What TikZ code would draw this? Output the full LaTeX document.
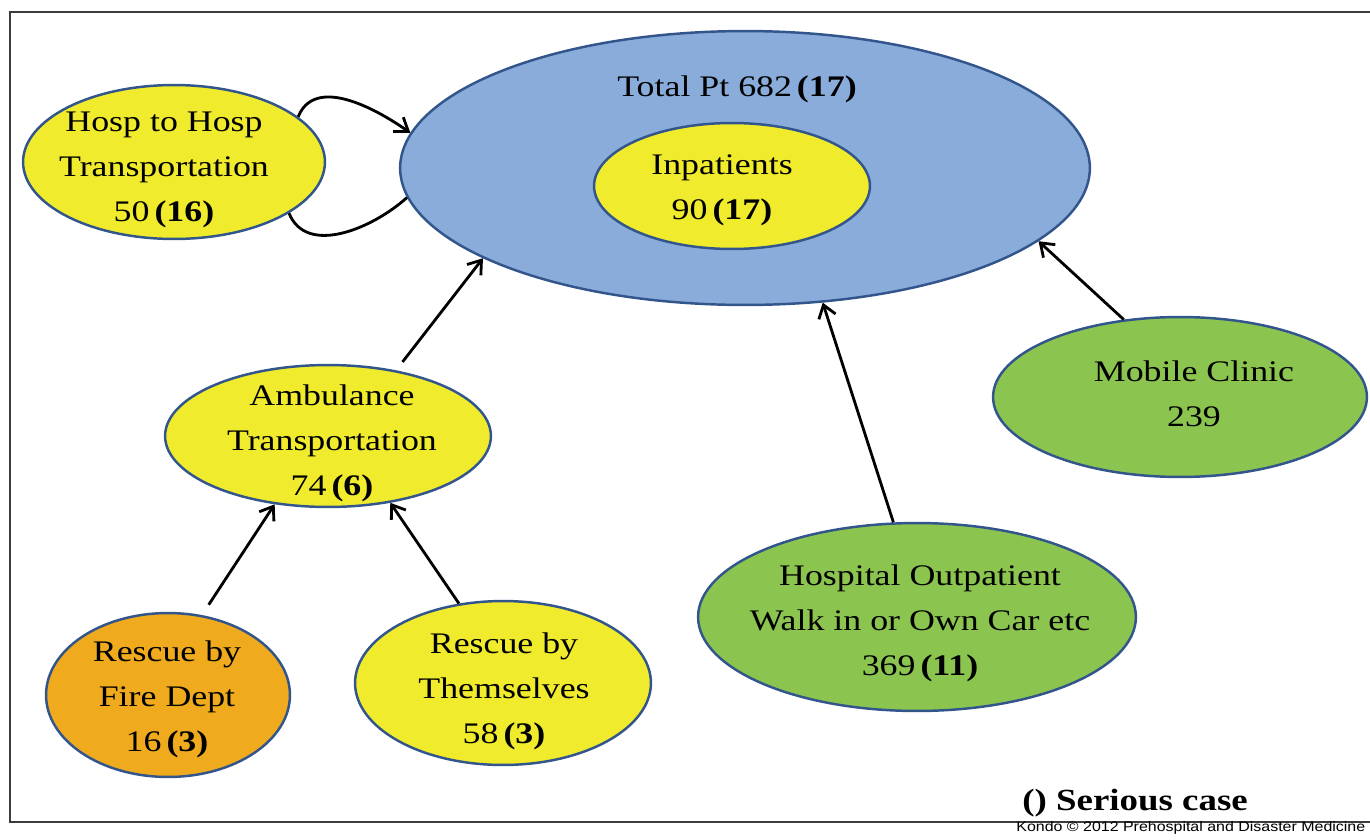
\documentclass[tikz,border=0pt]{standalone}
\usepackage{fontspec}
\setmainfont{Liberation Serif}
\newfontfamily\dfont[FakeStretch=1.2]{Liberation Serif}
\newfontfamily\kfont[FakeStretch=1.15]{Liberation Sans}
\usetikzlibrary{shapes.geometric,arrows.meta}
\definecolor{bluef}{RGB}{137,172,218}
\definecolor{yelf}{RGB}{240,235,45}
\definecolor{greenf}{RGB}{140,196,80}
\definecolor{orangef}{RGB}{240,170,30}
\definecolor{edgec}{RGB}{50,85,140}
\definecolor{framec}{RGB}{60,60,60}
\begin{document}
\begin{tikzpicture}[x={(0.02cm,0)},y={(0,-0.02cm)},
  ell/.style 2 args={ellipse, draw=edgec, line width=1.4pt,
    minimum width={#1*0.04cm}, minimum height={#2*0.04cm}, inner sep=0pt},
  txt/.style={font=\dfont\fontsize{17pt}{25.6pt}\selectfont, align=center, inner sep=0pt, text=black},
  arr/.style={line width=1.6pt, draw=black, -{Straight Barb[length=7pt,width=10pt,line width=1.6pt]}},
  loopline/.style={line width=1.6pt, draw=black}]
\useasboundingbox (0,0) rectangle (1370,839);
\fill[white] (0,0) rectangle (1370,839);
% frame
\draw[framec, line width=1.2pt] (1375,12) -- (10,12) -- (10,822) -- (1375,822);

% nodes
\node[ell={345}{137}, fill=bluef] (big) at (745,168) {};
\node[ell={138}{63}, fill=yelf] (inp) at (732,186) {};
\node[ell={151}{77}, fill=yelf] (hosp) at (174,162) {};
\node[ell={163}{71}, fill=yelf] (amb) at (328,436) {};
\node[ell={122}{82}, fill=orangef] (fire) at (168,695) {};
\node[ell={148}{82}, fill=yelf] (them) at (503,683) {};
\node[ell={219}{94}, fill=greenf] (out) at (917,617) {};
\node[ell={187}{80}, fill=greenf] (mob) at (1180,397) {};

% texts
\node[txt] (totalT) at (737,89) {Total Pt 682\,\textbf{(17)}};
\node[txt] (inpT) at (722,190) {Inpatients\\90\,\textbf{(17)}};
\node[txt] (hospT) at (164,170) {Hosp to Hosp\\Transportation\\50\,\textbf{(16)}};
\node[txt] (ambT) at (332,443) {Ambulance\\Transportation\\74\,\textbf{(6)}};
\node[txt] (fireT) at (167,699) {Rescue by\\Fire Dept\\16\,\textbf{(3)}};
\node[txt] (themT) at (504,691) {Rescue by\\Themselves\\58\,\textbf{(3)}};
\node[txt] (outT) at (920,623) {Hospital Outpatient\\Walk in or Own Car etc\\369\,\textbf{(11)}};
\node[txt] (mobT) at (1194,394) {Mobile Clinic\\239};

\node[font=\dfont\fontsize{17.5pt}{21pt}\selectfont\bfseries, anchor=base west, inner sep=0pt] (legend) at (1022,810) {() Serious case};
\node[font=\kfont\fontsize{7.9pt}{9pt}\selectfont, anchor=base west, inner sep=0pt] (credit) at (1016,831) {Kondo \textcopyright{} 2012 Prehospital and Disaster Medicine};

% connectors
\draw[arr, shorten <=6pt] (amb.44) -- (big.199);
\draw[arr, shorten <=7pt] (fire.67) -- (amb.232);
\draw[arr] (them.119) -- (amb.313);
\draw[arr] (out.104) -- (big.300.6);
\draw[arr] (mob.126) -- (big.346);
\draw[arr] (hosp.20) to[out=68, in=145] (big.174.7);
\draw[loopline] (hosp.336) to[out=-68, in=222] (big.185.3);
\end{tikzpicture}
\end{document}
